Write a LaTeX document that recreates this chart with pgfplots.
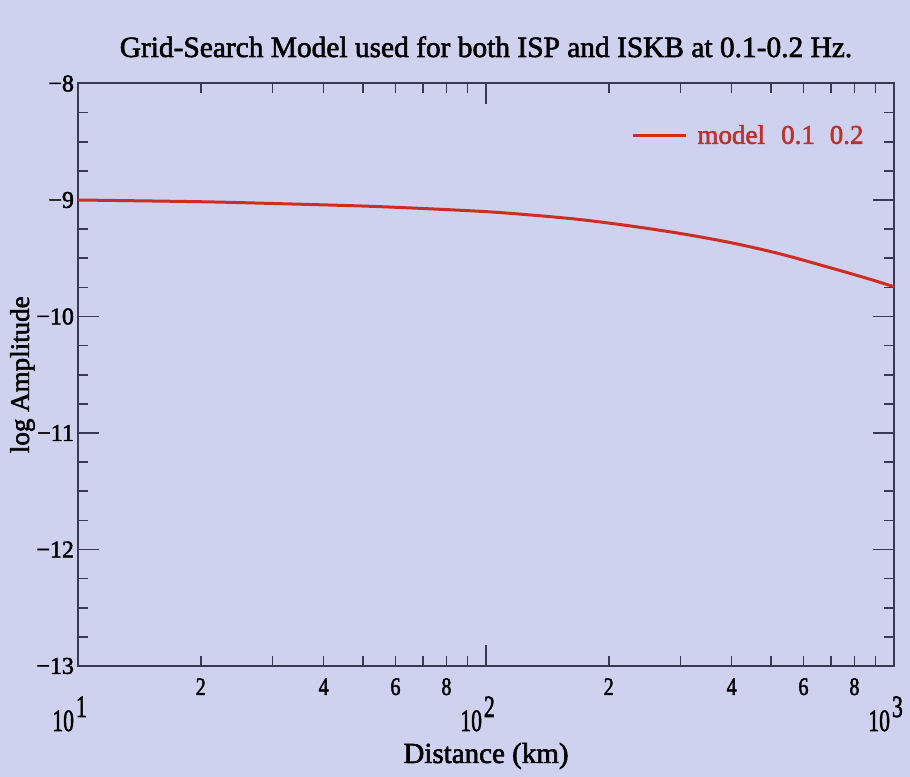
\documentclass[border=0pt]{standalone}
\usepackage{fontspec}
\setmainfont{Liberation Serif}[FakeBold=2]
\usepackage{pgfplots}
\pgfplotsset{compat=1.18}
\usetikzlibrary{backgrounds,calc}

\definecolor{bg}{RGB}{206,210,238}
\definecolor{axcol}{RGB}{55,58,82}
\definecolor{curve}{RGB}{205,45,35}
\definecolor{legtext}{RGB}{185,50,45}

\newcommand\mn{\symbol{"2212}}
\newcommand\tl[1]{\textrm{#1}}
\newcommand\nar[1]{\textrm{\scalebox{0.8}[1]{#1}}}
% decade label: narrow "10" left of the tick, exponent just past it, set below the 2/4/6/8 labels
\newcommand\declab[1]{\textrm{\raisebox{-18pt}{\fontsize{15.5}{15.5}\selectfont\makebox[0pt][r]{\scalebox{0.7}[1]{10}\kern2pt}\makebox[0pt][l]{\kern-1pt\raisebox{7pt}{\scalebox{0.7}[1]{#1}}}}}}

\begin{document}
\begin{tikzpicture}
\begin{axis}[
  name=ax,
  scale only axis,
  width=408pt, height=291.25pt,
  xmode=log, xmin=10, xmax=1000,
  ymin=-13, ymax=-8,
  axis line style={axcol, line width=1pt},
  every tick/.style={axcol, line width=0.8pt},
  tick align=inside,
  major tick length=10.5pt, minor tick length=5pt,
  xtick={10,100,1000},
  xticklabels={\declab{1},\declab{2},\declab{3}},
  xticklabel style={anchor=base, yshift=-14.5pt, font=\fontsize{12.6}{12.6}\selectfont},
  minor xtick={30,50,70,90,300,500,700,900},
  extra x ticks={20,40,60,80,200,400,600,800},
  extra x tick labels={\nar{2},\nar{4},\nar{6},\nar{8},\nar{2},\nar{4},\nar{6},\nar{8}},
  extra x tick style={major tick length=5pt},
  ytick={-13,-12,-11,-10,-9,-8},
  yticklabels={\tl{\mn13},\tl{\mn12},\tl{\mn11},\tl{\mn10},\tl{\mn9},\tl{\mn8}},
  minor y tick num=3,
  yticklabel style={font=\fontsize{12}{12}\selectfont, xshift=1.5pt},
  /pgf/number format/assume math mode=true,
  title={Grid-Search Model used for both ISP and ISKB at 0.1-0.2 Hz.},
  title style={at={(axis description cs:0.5,1)}, anchor=base, yshift=7.25pt,
    font=\fontsize{14.7}{14.7}\selectfont},
  xlabel={Distance (km)},
  xlabel style={at={(axis description cs:0.5,-0.1545)}, anchor=center,
    font=\fontsize{14.5}{14.5}\selectfont},
  ylabel={log Amplitude},
  ylabel style={at={(axis description cs:-0.068,0.5)}, anchor=center,
    font=\fontsize{13.5}{13.5}\selectfont},
  legend style={draw=none, fill=none, at={(axis description cs:0.968,0.91)},
    anchor=east, text=legtext, font=\fontsize{13.5}{13.5}\selectfont,
    inner sep=0pt},
  legend cell align=left,
  legend image code/.code={\draw[curve, line width=1.5pt] (0pt,0pt) -- (26.5pt,0pt);},
]
\addplot[curve, line width=1.5pt, smooth] coordinates {
  (10,-9.000) (20,-9.015) (30,-9.030) (50,-9.052) (70,-9.073)
  (100,-9.100) (130,-9.130) (170,-9.168) (225,-9.222) (300,-9.288)
  (400,-9.368) (525,-9.462) (700,-9.583) (850,-9.668) (1000,-9.744)
};
\addlegendentry{\hspace{3pt}model\hspace{0.6em}0.1\hspace{0.55em}0.2}
\end{axis}
\begin{pgfonlayer}{background}
  \fill[bg] ($(ax.south west)+(-39pt,-55.5pt)$) rectangle ($(ax.north east)+(8pt,41.75pt)$);
\end{pgfonlayer}
\pgfresetboundingbox
\useasboundingbox ($(ax.south west)+(-39pt,-55.5pt)$) rectangle ($(ax.north east)+(8pt,41.75pt)$);
\end{tikzpicture}
\end{document}
